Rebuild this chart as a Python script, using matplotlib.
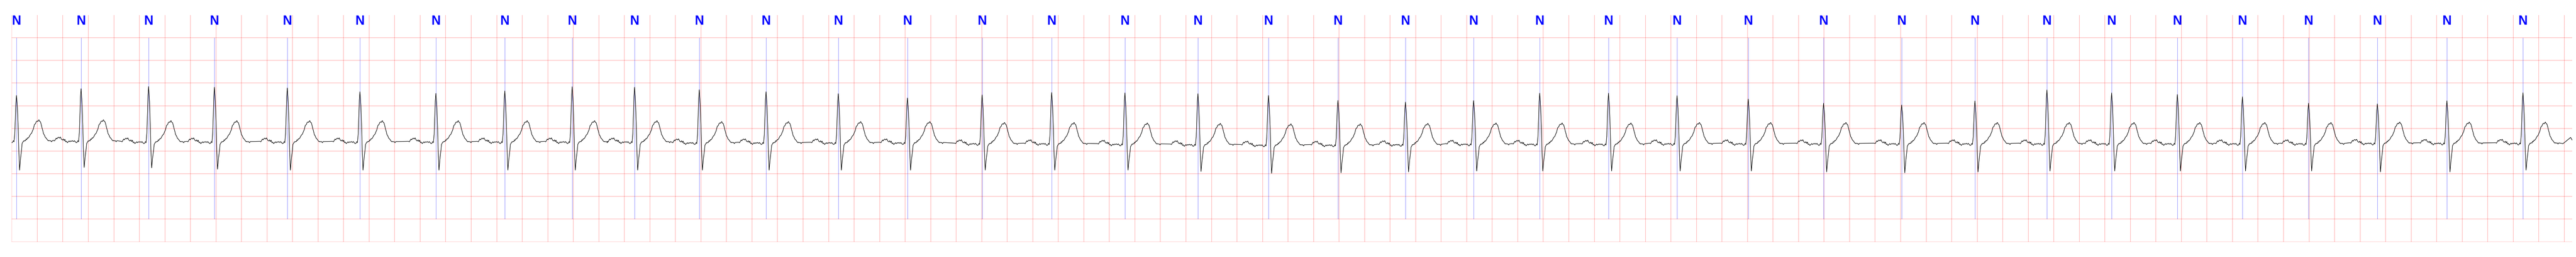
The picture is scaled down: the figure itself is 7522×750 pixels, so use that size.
import numpy as np
import matplotlib.pyplot as plt

# R-peak times (s), all beats annotated "N"
r_times = [0.037, 0.543, 1.072, 1.588, 2.159, 2.728, 3.323, 3.863, 4.391, 4.880,
           5.387, 5.910, 6.476, 7.018, 7.603, 8.148, 8.722, 9.294, 9.847, 10.391,
           10.920, 11.454, 11.972, 12.511, 13.048, 13.606, 14.196, 14.808, 15.382, 15.946,
           16.453, 16.968, 17.478, 17.996, 18.535, 19.080, 19.676]
labels = ["N"] * len(r_times)

# R-peak amplitude (mV)
r_amp = [1.228, 1.376, 1.424, 1.409, 1.394, 1.308, 1.273, 1.328, 1.419, 1.409,
         1.353, 1.308, 1.266, 1.172, 1.240, 1.293, 1.285, 1.266, 1.228, 1.119,
         1.081, 1.115, 1.278, 1.278, 1.223, 1.147, 1.057, 1.019, 1.107, 1.349,
         1.285, 1.248, 1.198, 1.057, 1.041, 1.110, 1.288]

# S-wave trough (mV)
s_amp = [-0.42, -0.36, -0.37, -0.40, -0.42, -0.42, -0.42, -0.42, -0.42, -0.42,
         -0.42, -0.42, -0.42, -0.42, -0.42, -0.42, -0.42, -0.45, -0.49, -0.48,
         -0.46, -0.44, -0.44, -0.44, -0.44, -0.44, -0.46, -0.48, -0.46, -0.44,
         -0.44, -0.44, -0.44, -0.44, -0.46, -0.46, -0.42]

# isoelectric level of each beat (mV)
baseline = [0.20, 0.20, 0.18, 0.18, 0.18, 0.18, 0.18, 0.18, 0.18, 0.18,
            0.16, 0.16, 0.16, 0.16, 0.14, 0.14, 0.13, 0.12, 0.11, 0.11,
            0.12, 0.13, 0.13, 0.13, 0.14, 0.14, 0.14, 0.14, 0.14, 0.14,
            0.14, 0.14, 0.14, 0.14, 0.15, 0.15, 0.15]

# beat shape read from one beat: P wave / PR segment before R (offset s, mV above baseline)
pre_t = [-0.2147, -0.2075, -0.2012, -0.1950, -0.1896, -0.1834, -0.1771, -0.1699, -0.1628,
         -0.1565, -0.1521, -0.1449, -0.1386, -0.1324, -0.1270, -0.1207, -0.1145, -0.1073,
         -0.1002, -0.0939, -0.0877, -0.0805, -0.0733, -0.0671, -0.0581, -0.0519, -0.0447,
         -0.0376, -0.0313, -0.0250, -0.0197]
pre_v = [0.035, 0.025, 0.055, 0.086, 0.068, 0.093, 0.106, 0.086, 0.111,
         0.076, 0.055, 0.043, 0.068, 0.030, 0.060, 0.005, 0.018, -0.015,
         0.005, 0.025, 0.005, 0.025, 0.015, 0.030, 0.010, 0.030, 0.005,
         -0.015, -0.008, 0.030, 0.005]

# QRS: fraction of R height (positive) or of S depth (negative)
qrs_t = [-0.0134, -0.0089, -0.0045, 0.0, 0.0072, 0.0134, 0.0179, 0.0241, 0.0313, 0.0402]
qrs_f = [0.18, 0.52, 0.845, 1.0, 0.737, 0.306, -0.256, -1.0, -0.61, -0.25]

# ST segment and T wave after R
post_t = [0.0438, 0.0555, 0.0599, 0.0644, 0.0716, 0.0751, 0.0805, 0.0868, 0.0912, 0.0984,
          0.1046, 0.1091, 0.1181, 0.1270, 0.1315, 0.1360, 0.1404, 0.1494, 0.1556, 0.1628,
          0.1673, 0.1717, 0.1762, 0.1807, 0.1878, 0.1941, 0.2004, 0.2057, 0.2120, 0.2182,
          0.2254, 0.2343, 0.2433, 0.2504, 0.2540, 0.2612, 0.2683, 0.2746, 0.2809]
post_v = [-0.033, 0.025, 0.018, 0.035, 0.030, 0.068, 0.055, 0.093, 0.086, 0.111,
          0.144, 0.169, 0.194, 0.257, 0.282, 0.332, 0.383, 0.408, 0.453, 0.463,
          0.453, 0.479, 0.491, 0.458, 0.446, 0.383, 0.307, 0.257, 0.181, 0.156,
          0.106, 0.081, 0.043, 0.025, 0.035, 0.025, 0.030, 0.005, 0.030]

# last bit of trace after the final beat (s, mV)
tail_t = [19.990, 20.017, 20.049, 20.062]
tail_v = [0.165, 0.226, 0.301, 0.241]

# assemble the trace beat by beat
tt, vv = [], []
for rt, ra, sa, b in zip(r_times, r_amp, s_amp, baseline):
    q_v = []
    for f in qrs_f:
        if f > 0:
            q_v.append(b + f * (ra - b))   # R wave
        else:
            q_v.append(b - f * (sa - b))   # S wave
    tt += [rt + d for d in pre_t] + [rt + d for d in qrs_t] + [rt + d for d in post_t]
    vv += [b + v for v in pre_v] + q_v + [b + v for v in post_v]
tt += tail_t
vv += tail_v

fig = plt.figure(figsize=(75.22, 7.5), dpi=100)
ax = fig.add_axes([0.00457, 0.0593, 0.99397, 0.882])

ax.plot(tt, vv, color="black", linewidth=1.05, zorder=3)

# annotation markers
ax.vlines(r_times, -1.5, 2.5, color="blue", linewidth=0.8, alpha=0.5, zorder=2)
for rt, lab in zip(r_times, labels):
    ax.text(rt, 3.0, lab, color="blue", fontsize=27, fontweight="bold",
            family=["Liberation Sans", "DejaVu Sans"], ha="center", va="top")

# ECG paper grid
ax.set_xlim(0, 20.062)
ax.set_ylim(-2.0, 3.0)
ax.set_xticks(np.arange(0, 20.01, 0.2))
ax.set_yticks(np.arange(-2.0, 2.51, 0.5))
ax.grid(True, color="red", alpha=0.28, linewidth=1.2)
ax.set_axisbelow(True)
ax.tick_params(length=0, labelbottom=False, labelleft=False)
for s in ax.spines.values():
    s.set_visible(False)

plt.savefig("out.png", dpi=100)
